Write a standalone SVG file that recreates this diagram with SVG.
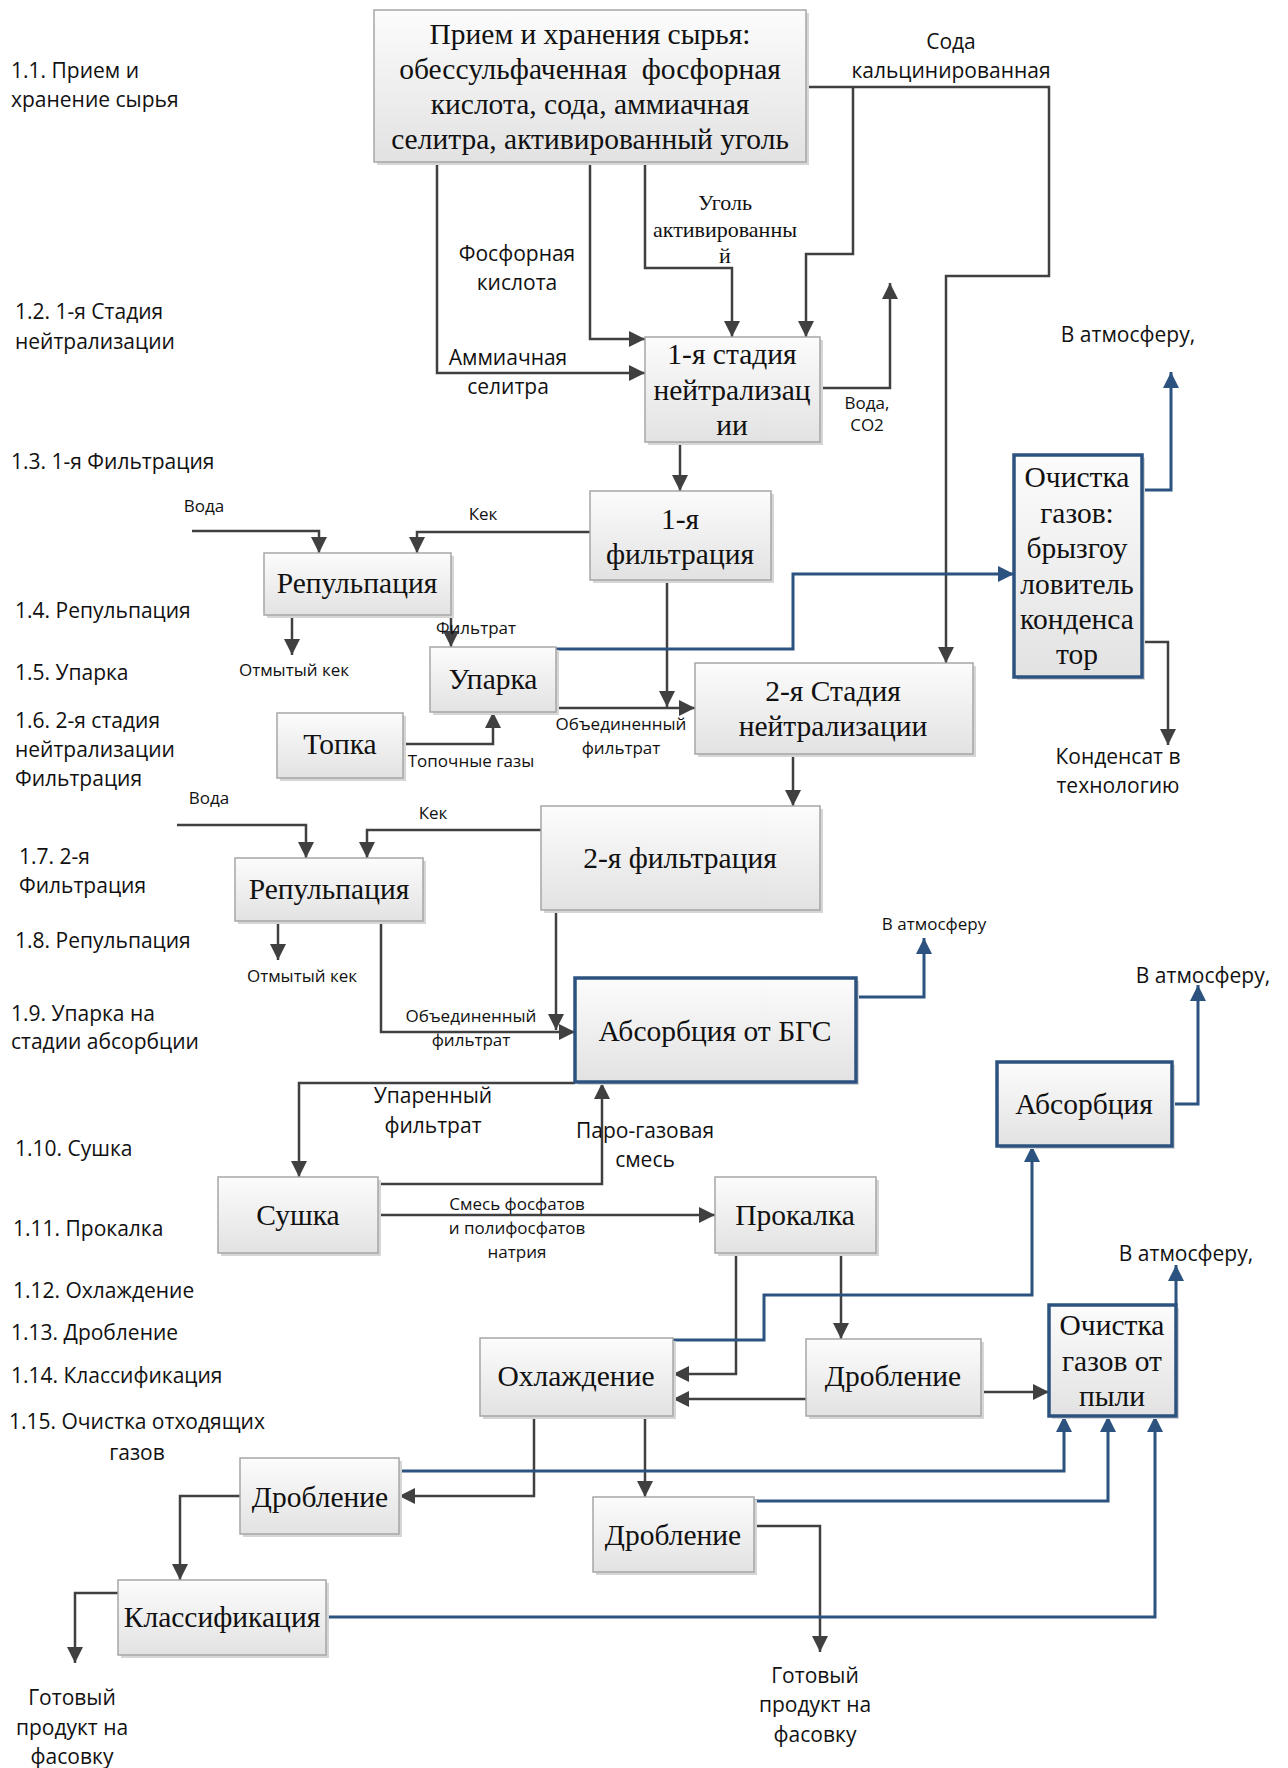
<svg xmlns="http://www.w3.org/2000/svg" width="1288" height="1768" viewBox="0 0 1288 1768">
<defs>
<linearGradient id="g" x1="0" y1="0" x2="0" y2="1">
<stop offset="0" stop-color="#fcfcfc"/>
<stop offset="1" stop-color="#e2e2e2"/>
</linearGradient>
<marker id="ag" viewBox="0 0 16 16" refX="16" refY="8" markerWidth="16" markerHeight="16" markerUnits="userSpaceOnUse" orient="auto">
<path d="M0,0 L16,8 L0,16 z" fill="#404040"/>
</marker>
<marker id="ab" viewBox="0 0 16 16" refX="16" refY="8" markerWidth="16" markerHeight="16" markerUnits="userSpaceOnUse" orient="auto">
<path d="M0,0 L16,8 L0,16 z" fill="#2c5380"/>
</marker>
<style>
.box{fill:url(#g);stroke:#a6a6a6;stroke-width:1.5}
.bbox{fill:url(#g);stroke:#2c5380;stroke-width:3.5}
.sh{fill:#d6d6d6}
.t{font-family:"Liberation Serif","Times New Roman",serif;font-size:29.5px;text-anchor:middle;fill:#111}
.ts{font-family:"Liberation Serif","Times New Roman",serif;font-size:22px;text-anchor:middle;fill:#111}
.l{font-family:"Open Sans","Liberation Sans",sans-serif;font-size:21px;fill:#111}
.m{font-family:"Open Sans","Liberation Sans",sans-serif;font-size:21px;fill:#111;text-anchor:middle}
.s{font-family:"Open Sans","Liberation Sans",sans-serif;font-size:17px;fill:#111;text-anchor:middle}
.c{fill:none;stroke:#404040;stroke-width:2.5;marker-end:url(#ag)}
.b{fill:none;stroke:#2c5380;stroke-width:3;marker-end:url(#ab)}
</style>
</defs>
<rect width="1288" height="1768" fill="#ffffff"/>

<g id="stage-labels">
<text class="l" x="11" y="78">1.1. Прием и</text>
<text class="l" x="11" y="107">хранение сырья</text>
<text class="l" x="15" y="319">1.2. 1-я Стадия</text>
<text class="l" x="15" y="349">нейтрализации</text>
<text class="l" x="11" y="469">1.3. 1-я Фильтрация</text>
<text class="l" x="15" y="618">1.4. Репульпация</text>
<text class="l" x="15" y="680">1.5. Упарка</text>
<text class="l" x="15" y="728">1.6. 2-я стадия</text>
<text class="l" x="15" y="757">нейтрализации</text>
<text class="l" x="15" y="786">Фильтрация</text>
<text class="l" x="19" y="864">1.7. 2-я</text>
<text class="l" x="19" y="893">Фильтрация</text>
<text class="l" x="15" y="948">1.8. Репульпация</text>
<text class="l" x="11" y="1021">1.9. Упарка на</text>
<text class="l" x="11" y="1049">стадии абсорбции</text>
<text class="l" x="15" y="1156">1.10. Сушка</text>
<text class="l" x="13" y="1236">1.11. Прокалка</text>
<text class="l" x="13" y="1298">1.12. Охлаждение</text>
<text class="l" x="11" y="1340">1.13. Дробление</text>
<text class="l" x="11" y="1383">1.14. Классификация</text>
<text class="l" x="9" y="1429">1.15. Очистка отходящих</text>
<text class="m" x="137" y="1460">газов</text>
</g>

<g id="connectors">
<path class="c" d="M437,162 V373 H645"/>
<path class="c" d="M590,162 V339 H645"/>
<path class="c" d="M645,162 V268 H732 V337"/>
<path class="c" d="M806,87 H1049 V276 H946 V663"/>
<path class="c" d="M853,87 V254 H806 V337"/>
<path class="c" d="M820,388 H890 V283"/>
<path class="c" d="M680,442 V491"/>
<path class="c" d="M590,532 H417 V553"/>
<path class="c" d="M192,531 H319 V553"/>
<path class="c" d="M292,615 V655"/>
<path class="c" d="M451,594 V647"/>
<path class="c" d="M403,744 H493 V712"/>
<path class="c" d="M556,708 H695"/>
<path class="c" d="M667,580 V707"/>
<path class="b" d="M556,649 H793 V574 H1014"/>
<path class="b" d="M1142,490 H1171 V372"/>
<path class="c" d="M1142,642 H1168 V745"/>
<path class="c" d="M793,754 V806"/>
<path class="c" d="M541,830 H367 V858"/>
<path class="c" d="M177,825 H306 V858"/>
<path class="c" d="M278,921 V960"/>
<path class="c" d="M381,921 V1032 H575"/>
<path class="c" d="M556,910 V1030"/>
<path class="b" d="M856,997 H924 V938"/>
<path class="b" d="M1172,1104 H1198 V985"/>
<path class="c" d="M575,1083 H299 V1177"/>
<path class="c" d="M378,1184 H602 V1083"/>
<path class="c" d="M378,1215 H715"/>
<path class="c" d="M736,1253 V1374 H673"/>
<path class="c" d="M841,1253 V1339"/>
<path class="b" d="M673,1340 H764 V1295 H1032 V1146"/>
<path class="c" d="M806,1399 H673"/>
<path class="c" d="M981,1392 H1049"/>
<path class="b" d="M1176,1305 V1265"/>
<path class="c" d="M534,1416 V1496 H399"/>
<path class="c" d="M645,1416 V1497"/>
<path class="c" d="M240,1496 H180 V1580"/>
<path class="c" d="M118,1593 H75 V1663"/>
<path class="c" d="M754,1526 H820 V1652"/>
<path class="b" d="M399,1471 H1064 V1416"/>
<path class="b" d="M754,1501 H1108 V1416"/>
<path class="b" d="M326,1617 H1155 V1416"/>
</g>

<g id="connector-labels">
<text class="m" x="951" y="49">Сода</text>
<text class="m" x="951" y="78">кальцинированная</text>
<text class="m" x="517" y="261">Фосфорная</text>
<text class="m" x="517" y="290">кислота</text>
<text class="ts" x="725" y="210">Уголь</text>
<text class="ts" x="725" y="237">активированны</text>
<text class="ts" x="725" y="263">й</text>
<text class="m" x="508" y="365">Аммиачная</text>
<text class="m" x="508" y="394">селитра</text>
<text class="s" x="867" y="409">Вода,</text>
<text class="s" x="867" y="431">CO2</text>
<text class="m" x="1128" y="342">В атмосферу,</text>
<text class="s" x="204" y="512">Вода</text>
<text class="s" x="483" y="520">Кек</text>
<text class="s" x="476" y="634">Фильтрат</text>
<text class="s" x="294" y="676">Отмытый кек</text>
<text class="s" x="621" y="730">Объединенный</text>
<text class="s" x="621" y="754">фильтрат</text>
<text class="s" x="471" y="767">Топочные газы</text>
<text class="m" x="1118" y="764">Конденсат в</text>
<text class="m" x="1118" y="793">технологию</text>
<text class="s" x="209" y="804">Вода</text>
<text class="s" x="433" y="819">Кек</text>
<text class="s" x="302" y="982">Отмытый кек</text>
<text class="s" x="934" y="930">В атмосферу</text>
<text class="m" x="1203" y="983">В атмосферу,</text>
<text class="s" x="471" y="1022">Объединенный</text>
<text class="s" x="471" y="1046">фильтрат</text>
<text class="m" x="433" y="1103">Упаренный</text>
<text class="m" x="433" y="1133">фильтрат</text>
<text class="m" x="645" y="1138">Паро-газовая</text>
<text class="m" x="645" y="1167">смесь</text>
<text class="s" x="517" y="1210">Смесь фосфатов</text>
<text class="s" x="517" y="1234">и полифосфатов</text>
<text class="s" x="517" y="1258">натрия</text>
<text class="m" x="1186" y="1261">В атмосферу,</text>
<text class="m" x="72" y="1705">Готовый</text>
<text class="m" x="72" y="1735">продукт на</text>
<text class="m" x="72" y="1764">фасовку</text>
<text class="m" x="815" y="1683">Готовый</text>
<text class="m" x="815" y="1712">продукт на</text>
<text class="m" x="815" y="1742">фасовку</text>
</g>

<g id="n-storage">
<rect class="sh" x="377" y="13" width="432" height="152"/>
<rect class="box" x="374" y="10" width="432" height="152"/>
<text class="t" x="590" y="44">Прием и хранения сырья:</text>
<text class="t" x="590" y="79">обессульфаченная&#160; фосфорная</text>
<text class="t" x="590" y="114">кислота, сода, аммиачная</text>
<text class="t" x="590" y="149">селитра, активированный уголь</text>
</g>

<g id="n-neutr1">
<rect class="sh" x="648" y="340" width="175" height="105"/>
<rect class="box" x="645" y="337" width="175" height="105"/>
<text class="t" x="732" y="364">1-я стадия</text>
<text class="t" x="732" y="400">нейтрализац</text>
<text class="t" x="732" y="435">ии</text>
</g>

<g id="n-filt1">
<rect class="sh" x="593" y="494" width="181" height="89"/>
<rect class="box" x="590" y="491" width="181" height="89"/>
<text class="t" x="680" y="529">1-я</text>
<text class="t" x="680" y="564">фильтрация</text>
</g>

<g id="n-repulp1">
<rect class="sh" x="267" y="556" width="187" height="62"/>
<rect class="box" x="264" y="553" width="187" height="62"/>
<text class="t" x="357" y="593">Репульпация</text>
</g>

<g id="n-uparka">
<rect class="sh" x="433" y="650" width="126" height="65"/>
<rect class="box" x="430" y="647" width="126" height="65"/>
<text class="t" x="493" y="689">Упарка</text>
</g>

<g id="n-topka">
<rect class="sh" x="280" y="716" width="126" height="65"/>
<rect class="box" x="277" y="713" width="126" height="65"/>
<text class="t" x="340" y="754">Топка</text>
</g>

<g id="n-neutr2">
<rect class="sh" x="698" y="666" width="278" height="91"/>
<rect class="box" x="695" y="663" width="278" height="91"/>
<text class="t" x="833" y="701">2-я Стадия</text>
<text class="t" x="833" y="736">нейтрализации</text>
</g>

<g id="n-gasclean">
<rect class="sh" x="1017" y="458" width="128" height="222"/>
<rect class="bbox" x="1014" y="455" width="128" height="222"/>
<text class="t" x="1077" y="487">Очистка</text>
<text class="t" x="1077" y="523">газов:</text>
<text class="t" x="1077" y="558">брызгоу</text>
<text class="t" x="1077" y="594">ловитель</text>
<text class="t" x="1077" y="629">конденса</text>
<text class="t" x="1077" y="664">тор</text>
</g>

<g id="n-filt2">
<rect class="sh" x="544" y="809" width="279" height="104"/>
<rect class="box" x="541" y="806" width="279" height="104"/>
<text class="t" x="680" y="868">2-я фильтрация</text>
</g>

<g id="n-repulp2">
<rect class="sh" x="238" y="861" width="188" height="63"/>
<rect class="box" x="235" y="858" width="188" height="63"/>
<text class="t" x="329" y="899">Репульпация</text>
</g>

<g id="n-absbgs">
<rect class="sh" x="578" y="981" width="281" height="104"/>
<rect class="bbox" x="575" y="978" width="281" height="104"/>
<text class="t" x="715" y="1041">Абсорбция от БГС</text>
</g>

<g id="n-abs">
<rect class="sh" x="1000" y="1065" width="175" height="84"/>
<rect class="bbox" x="997" y="1062" width="175" height="84"/>
<text class="t" x="1084" y="1114">Абсорбция</text>
</g>

<g id="n-sushka">
<rect class="sh" x="221" y="1180" width="160" height="76"/>
<rect class="box" x="218" y="1177" width="160" height="76"/>
<text class="t" x="298" y="1225">Сушка</text>
</g>

<g id="n-prokalka">
<rect class="sh" x="718" y="1180" width="161" height="76"/>
<rect class="box" x="715" y="1177" width="161" height="76"/>
<text class="t" x="795" y="1225">Прокалка</text>
</g>

<g id="n-dustclean">
<rect class="sh" x="1052" y="1308" width="127" height="111"/>
<rect class="bbox" x="1049" y="1305" width="127" height="111"/>
<text class="t" x="1112" y="1335">Очистка</text>
<text class="t" x="1112" y="1371">газов от</text>
<text class="t" x="1112" y="1406">пыли</text>
</g>

<g id="n-cooling">
<rect class="sh" x="483" y="1341" width="193" height="78"/>
<rect class="box" x="480" y="1338" width="193" height="78"/>
<text class="t" x="576" y="1386">Охлаждение</text>
</g>

<g id="n-crush-right">
<rect class="sh" x="809" y="1342" width="175" height="77"/>
<rect class="box" x="806" y="1339" width="175" height="77"/>
<text class="t" x="893" y="1386">Дробление</text>
</g>

<g id="n-crush-left">
<rect class="sh" x="243" y="1461" width="159" height="76"/>
<rect class="box" x="240" y="1458" width="159" height="76"/>
<text class="t" x="320" y="1507">Дробление</text>
</g>

<g id="n-crush-mid">
<rect class="sh" x="596" y="1500" width="161" height="75"/>
<rect class="box" x="593" y="1497" width="161" height="75"/>
<text class="t" x="673" y="1545">Дробление</text>
</g>

<g id="n-classif">
<rect class="sh" x="121" y="1583" width="208" height="75"/>
<rect class="box" x="118" y="1580" width="208" height="75"/>
<text class="t" x="222" y="1627">Классификация</text>
</g>
</svg>
